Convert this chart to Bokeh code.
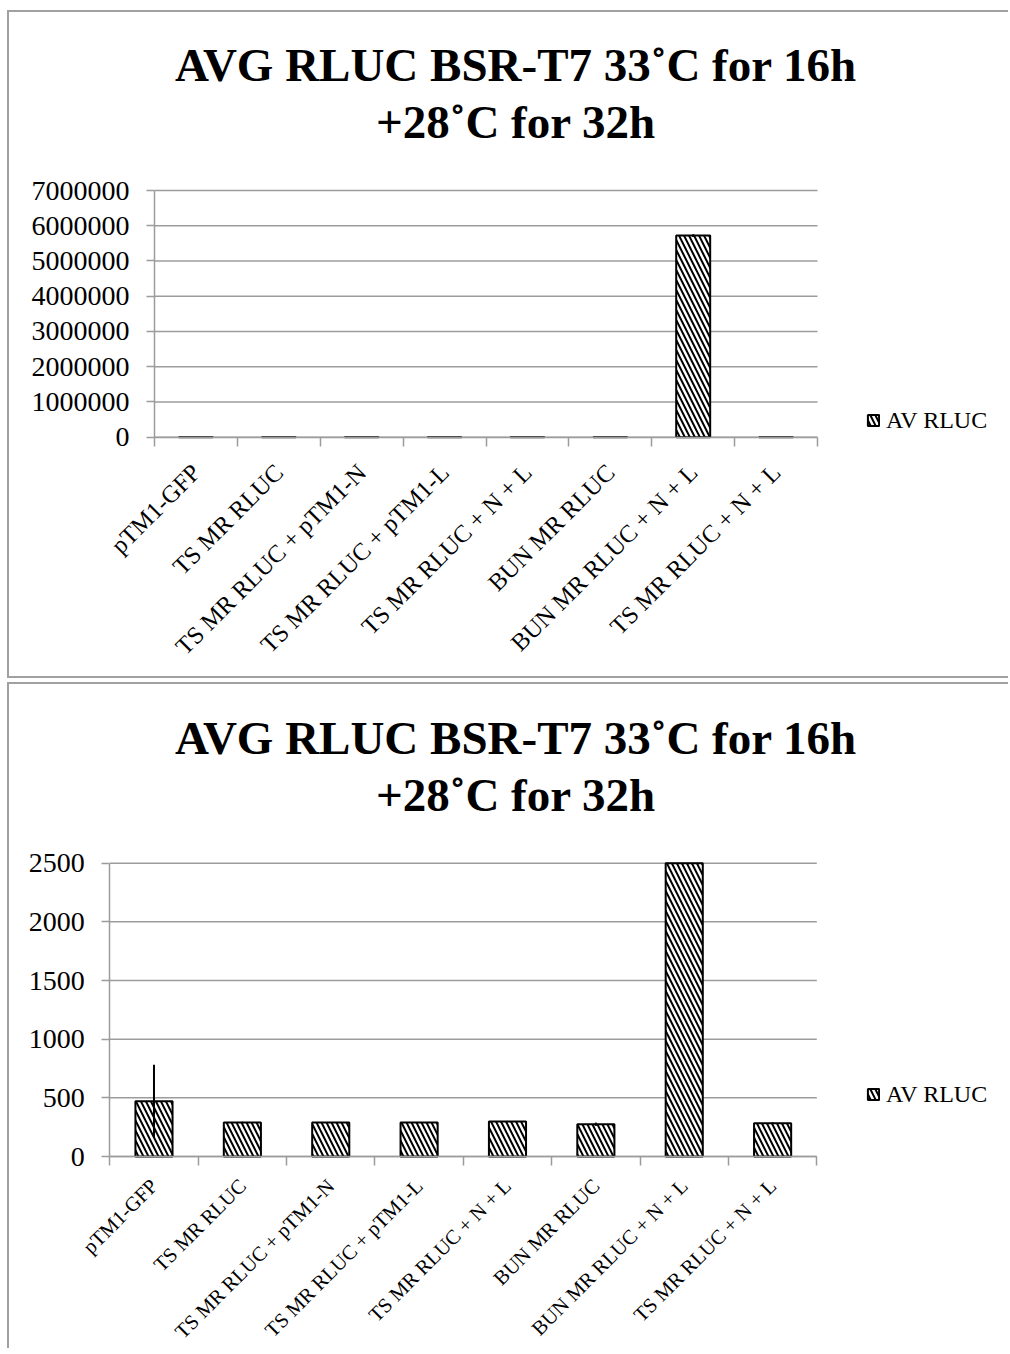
from math import pi
from bokeh.plotting import figure
from bokeh.models import (ColumnDataSource, FixedTicker, Label, Legend, LegendItem,
                          Spacer)
from bokeh.layouts import column, row
from bokeh.embed import file_html
from bokeh.resources import INLINE

# ---------------- data ----------------
categories = ["pTM1-GFP", "TS MR RLUC", "TS MR RLUC + pTM1-N", "TS MR RLUC + pTM1-L",
              "TS MR RLUC + N + L", "BUN MR RLUC", "BUN MR RLUC + N + L",
              "TS MR RLUC + N + L"]
av_rluc = [471, 290, 290, 290, 298, 275, 5720000, 284]
av_rluc_err = [310, 6, 4, 4, 5, 14, 40000, 8]
series_name = "AV RLUC"
title_line1 = "AVG RLUC BSR-T7 33˚C for 16h"
title_line2 = "+28˚C for 32h"
top_y_ticks = [0, 1000000, 2000000, 3000000, 4000000, 5000000, 6000000, 7000000]
bottom_y_ticks = [0, 500, 1000, 1500, 2000, 2500]

GRAY = "#9c9c9c"
BOX = "#a0a0a0"
SERIF = "Liberation Serif"
CONTENT_W = 1001


def make_chart(y_ticks, height, origin, plot_w, plot_h, bar_width,
               title_xy, legend_xy, xlabel_size, xlabel_standoff, borders):
    """The frame covers the whole canvas; origin = canvas pixel (from top-left)
    of the data point (0, 0); the category area is plot_w x plot_h pixels."""
    n = len(categories)
    y_max = y_ticks[-1]
    ox, oy = origin
    ux = n / plot_w          # data units per pixel
    uy = y_max / plot_h
    x_range = (-ox * ux, (CONTENT_W - ox) * ux)
    y_range = (-(height - oy) * uy, oy * uy)

    centers = [i + 0.5 for i in range(n)]
    src = ColumnDataSource(dict(
        x=centers,
        top=[min(v, y_max) for v in av_rluc],
        lower=[min(v - e, y_max) for v, e in zip(av_rluc, av_rluc_err)],
        upper=[min(v + e, y_max) for v, e in zip(av_rluc, av_rluc_err)],
    ))
    grid_src = ColumnDataSource(dict(y=y_ticks, x0=[0] * len(y_ticks),
                                     x1=[n] * len(y_ticks)))

    p = figure(width=CONTENT_W, height=height, x_range=x_range, y_range=y_range,
               output_backend="svg", toolbar_location=None,
               min_border_left=0, min_border_right=0, min_border_top=0,
               min_border_bottom=0)
    p.styles = borders
    p.outline_line_color = None
    p.background_fill_color = "white"
    p.border_fill_color = "white"
    p.xgrid.visible = False
    p.ygrid.visible = False

    p.segment(x0="x0", y0="y", x1="x1", y1="y", source=grid_src,
              line_color=GRAY, line_width=1.5)
    bars = p.vbar(x="x", top="top", bottom=0, width=bar_width, source=src,
                  fill_color="white", line_color="black", line_width=2,
                  hatch_pattern="\\", hatch_color="black", hatch_scale=10,
                  hatch_weight=2)
    p.segment(x0="x", y0="lower", x1="x", y1="upper", source=src,
              line_color="black", line_width=2)

    # y axis (placed at x = 0 inside the frame)
    yax = p.yaxis[0]
    yax.fixed_location = 0
    yax.bounds = (0, y_max)
    yax.ticker = FixedTicker(ticks=y_ticks)
    yax.major_label_overrides = {t: str(t) for t in y_ticks}
    yax.axis_line_color = GRAY
    yax.axis_line_width = 1.5
    yax.major_tick_line_color = GRAY
    yax.major_tick_line_width = 1.5
    yax.major_tick_out = 8
    yax.major_tick_in = 0
    yax.minor_tick_line_color = None
    yax.major_label_text_font = SERIF
    yax.major_label_text_font_size = "28px"
    yax.major_label_text_color = "black"
    yax.major_label_standoff = 17

    # x axis (placed at y = 0 inside the frame)
    xax = p.xaxis[0]
    xax.fixed_location = 0
    xax.bounds = (0, n)
    xax.ticker = FixedTicker(ticks=centers, minor_ticks=list(range(n + 1)))
    xax.major_label_overrides = {c: lab for c, lab in zip(centers, categories)}
    xax.major_label_orientation = pi / 4
    xax.axis_line_color = GRAY
    xax.axis_line_width = 1.5
    xax.major_tick_line_color = None
    xax.major_tick_out = 0
    xax.major_tick_in = 0
    xax.minor_tick_line_color = GRAY
    xax.minor_tick_line_width = 1.5
    xax.minor_tick_out = 9
    xax.minor_tick_in = 0
    xax.major_label_text_font = SERIF
    xax.major_label_text_font_size = xlabel_size
    xax.major_label_text_color = "black"
    xax.major_label_standoff = xlabel_standoff

    tx, ty1, ty2 = title_xy
    for txt, ty in ((title_line1, ty1), (title_line2, ty2)):
        p.add_layout(Label(x=tx, y=ty, x_units="screen", y_units="screen",
                           text=txt, text_align="center", text_baseline="alphabetic",
                           text_font=SERIF, text_font_style="bold",
                           text_font_size="47px", text_color="black"))

    legend = Legend(items=[LegendItem(label=series_name, renderers=[bars])],
                    location=legend_xy, border_line_color=None,
                    background_fill_alpha=0, padding=0, margin=0,
                    glyph_width=14, glyph_height=14, label_standoff=6,
                    label_text_font=SERIF, label_text_font_size="24px",
                    label_text_color="black")
    p.add_layout(legend)
    return p


top = make_chart(top_y_ticks, 668, (145, 424.7), 663, 246.7, 0.41,
                 (506.5, 616, 559), (857, 246.3), "24.5px", 22,
                 {"border-left": f"2px solid {BOX}",
                  "border-top": f"2px solid {BOX}",
                  "border-bottom": f"2px solid {BOX}"})
bottom = make_chart(bottom_y_ticks, 666, (100.3, 472), 707, 293.3, 0.42,
                    (506.5, 613, 556), (857, 242.3), "20.5px", 17,
                    {"border-left": f"2px solid {BOX}",
                     "border-top": f"2px solid {BOX}"})

layout = row(Spacer(width=7),
             column(Spacer(height=10), top, Spacer(height=4), bottom))
open("out.html", "w").write(file_html(layout, INLINE))
